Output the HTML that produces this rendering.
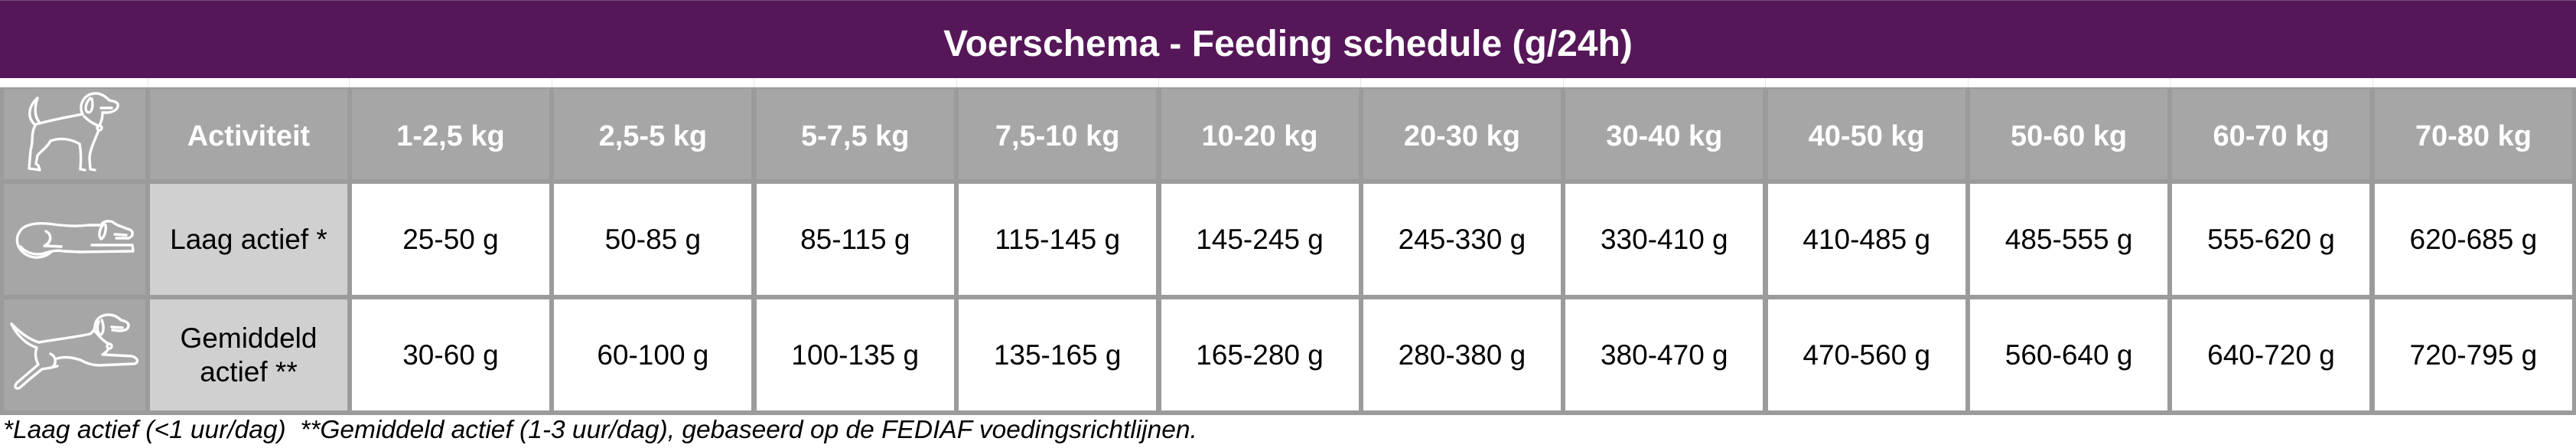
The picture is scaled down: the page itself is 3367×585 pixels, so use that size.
<!DOCTYPE html>
<html>
<head>
<meta charset="utf-8">
<style>
  html, body { margin:0; padding:0; }
  body { width:3367px; height:585px; background:#ffffff; position:relative; overflow:hidden;
         font-family:"Liberation Sans", Arial, sans-serif; }
  .band { position:absolute; left:0; top:0; width:3367px; height:102px; background:#561759; }
  .band-top { position:absolute; left:0; top:0; width:3367px; height:1px; background:#7a4f7c; }
  .title { position:absolute; left:0; top:34px; width:3367px; height:48px; line-height:48px;
           text-align:center; color:#fff; font-weight:bold; font-size:48px; white-space:nowrap; }
  .grid { position:absolute; left:0; top:114px; width:3367px; height:428px; box-sizing:border-box;
          background:#9b9b9b; padding:2px 5px 6px 5px;
          display:grid;
          grid-template-columns: 185px 257.2px repeat(11, 258px);
          grid-template-rows: 118px 145px 145px;
          column-gap:6.4px; row-gap:6px; }
  .c { display:flex; align-items:center; justify-content:center; text-align:center;
       white-space:nowrap; color:#000; font-size:37px; line-height:44px; }
  .h { background:#a6a6a6; color:#fff; font-weight:bold; font-size:38px; padding-top:6px; box-sizing:border-box; }
  .d { background:#ffffff; }
  .a { background:#d0d0d0; }
  .g { background:#a6a6a6; }
  .foot { position:absolute; left:4px; top:545px; height:34px; line-height:34px; font-size:33.5px;
          font-style:italic; color:#000; white-space:nowrap; }
  svg.icons { position:absolute; left:0; top:0; }
  .gl { position:absolute; top:102px; width:1px; height:12px; background:#e6e6e6; }
</style>
</head>
<body>
<div class="band"></div>
<div class="band-top"></div>
<div class="title">Voerschema - Feeding schedule (g/24h)</div>

<div class="gl" style="left:193px"></div>
<div class="gl" style="left:456px"></div>
<div class="gl" style="left:721px"></div>
<div class="gl" style="left:985px"></div>
<div class="gl" style="left:1250px"></div>
<div class="gl" style="left:1514px"></div>
<div class="gl" style="left:1778px"></div>
<div class="gl" style="left:2043px"></div>
<div class="gl" style="left:2307px"></div>
<div class="gl" style="left:2572px"></div>
<div class="gl" style="left:2836px"></div>
<div class="gl" style="left:3101px"></div>

<div class="grid">
  <div class="c g"></div>
  <div class="c h">Activiteit</div>
  <div class="c h">1-2,5 kg</div>
  <div class="c h">2,5-5 kg</div>
  <div class="c h">5-7,5 kg</div>
  <div class="c h">7,5-10 kg</div>
  <div class="c h">10-20 kg</div>
  <div class="c h">20-30 kg</div>
  <div class="c h">30-40 kg</div>
  <div class="c h">40-50 kg</div>
  <div class="c h">50-60 kg</div>
  <div class="c h">60-70 kg</div>
  <div class="c h">70-80 kg</div>

  <div class="c g"></div>
  <div class="c a">Laag actief *</div>
  <div class="c d">25-50 g</div>
  <div class="c d">50-85 g</div>
  <div class="c d">85-115 g</div>
  <div class="c d">115-145 g</div>
  <div class="c d">145-245 g</div>
  <div class="c d">245-330 g</div>
  <div class="c d">330-410 g</div>
  <div class="c d">410-485 g</div>
  <div class="c d">485-555 g</div>
  <div class="c d">555-620 g</div>
  <div class="c d">620-685 g</div>

  <div class="c g"></div>
  <div class="c a">Gemiddeld<br>actief **</div>
  <div class="c d">30-60 g</div>
  <div class="c d">60-100 g</div>
  <div class="c d">100-135 g</div>
  <div class="c d">135-165 g</div>
  <div class="c d">165-280 g</div>
  <div class="c d">280-380 g</div>
  <div class="c d">380-470 g</div>
  <div class="c d">470-560 g</div>
  <div class="c d">560-640 g</div>
  <div class="c d">640-720 g</div>
  <div class="c d">720-795 g</div>
</div>

<svg class="icons" width="200" height="545" viewBox="0 0 200 545" xmlns="http://www.w3.org/2000/svg">
  <g fill="none" stroke="#ffffff" stroke-width="3.4" stroke-linecap="round" stroke-linejoin="round">
    <!-- standing dog -->
    <path d="M49,128 C37,139 35,154 46,163"/>
    <path d="M49,128 C45,140 45,152 51,159"/>
    <path d="M48,162 C70,156 92,152 108,149"/>
    <path d="M108,149 C102,137 110,123 123,122 C132,121 139,127 143,131 C148,132 153,133 154,136 C155,142 150,146 141,147 L134,147"/>
    <path d="M118,128 C111,135 110,146 116,147 C121,146 122,136 120,129"/>
    <path d="M132,141 L146,141"/>
    <path d="M134,148 C134,156 131,162 129,165"/>
    <path d="M110,152 C116,158 123,162 128,164"/>
    <circle cx="130" cy="167" r="3"/>
    <path d="M129,170 C124,183 117,196 117,207 L118,221 L124,222"/>
    <path d="M104,188 C106,198 106,210 105,221 L111,222"/>
    <path d="M66,184 C80,179 94,182 104,188"/>
    <path d="M46,164 C40,174 44,184 40,196 L38,220 L52,222 L50,216 L47,214 L49,203 C55,196 62,192 66,184"/>

    <!-- lying dog -->
    <path d="M25,304 C30,292 50,290 70,293 C85,295 100,296 115,294 L132,294"/>
    <path d="M132,294 C135,288 145,287 150,292 C155,295 162,297 170,300 C175,303 174,309 168,311 L152,311"/>
    <path d="M136,292 C130,298 128,308 132,312 C137,310 139,300 138,294"/>
    <path d="M150,306 L165,307"/>
    <path d="M120,320 L173,320 L174,328 L104,329"/>
    <path d="M25,304 C18,315 25,333 45,336 C55,337 62,333 66,330"/>
    <path d="M27,322 C35,332 50,334 60,330 C70,327 78,327 83,328 L104,329"/>
    <path d="M60,302 C68,306 68,316 58,321 L80,322"/>

    <!-- running dog -->
    <path d="M15,423 C22,438 35,450 48,454"/>
    <path d="M15,423 C28,436 40,444 51,447"/>
    <path d="M51,447 C75,443 100,440 118,436 C122,433 124,429 124,427"/>
    <path d="M124,427 C124,417 132,411 142,411 C150,411 155,415 158,418 C163,419 168,421 168,425 C168,430 163,432 156,432 L147,431"/>
    <path d="M129,420 C126,428 127,436 132,437 C136,434 136,425 133,418"/>
    <path d="M146,427 L160,428"/>
    <path d="M124,432 C130,440 136,446 142,449"/>
    <circle cx="143" cy="452" r="3"/>
    <path d="M142,455 C139,460 136,462 134,463 L172,465 C180,467 182,473 176,475 L130,477 C120,477 112,474 105,470"/>
    <path d="M105,470 C95,467 85,465 75,468"/>
    <path d="M66,462 C74,466 74,475 68,480"/>
    <path d="M48,454 C45,462 47,470 50,476 L22,500 C18,505 20,508 25,507 L40,494 L55,482 C62,481 68,480 75,478"/>
  </g>
</svg>

<div class="foot">*Laag actief (&lt;1 uur/dag)&nbsp; **Gemiddeld actief (1-3 uur/dag), gebaseerd op de FEDIAF voedingsrichtlijnen.</div>
</body>
</html>
